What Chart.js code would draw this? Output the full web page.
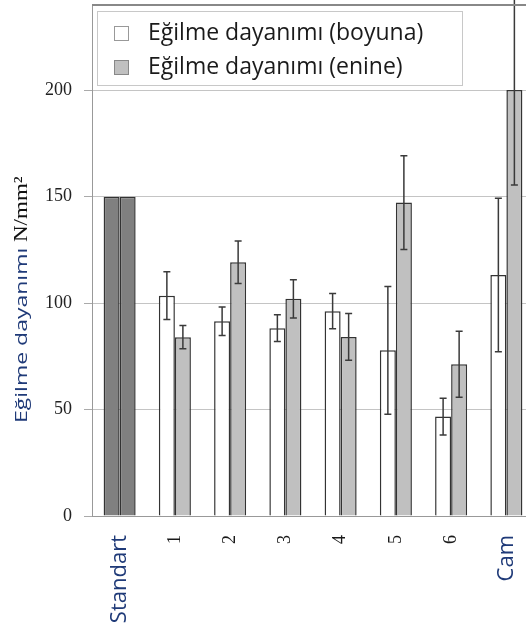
<!DOCTYPE html>
<html>
<head>
<meta charset="utf-8">
<script src="https://cdn.jsdelivr.net/npm/chart.js@4.4.1/dist/chart.umd.min.js"></script>
<style>
  html, body { margin: 0; padding: 0; background: #fff; overflow: hidden; }
  #wrap { width: 536px; height: 628px; }
</style>
</head>
<body>
<div id="wrap"><canvas id="canvas" width="536" height="628"></canvas></div>
<script>
var categories = ['Standart', '1', '2', '3', '4', '5', '6', 'Cam'];
var boyuna = [150, 103.5, 91.5, 88.2, 96.2, 77.8, 46.7, 113.2];
var boyunaErr = [0, 11.2, 6.7, 6.3, 8.3, 30, 8.6, 36];
var enine = [150, 84, 119.2, 102, 84.1, 147.2, 71.3, 200.1];
var enineErr = [0, 5.5, 10, 9, 11, 22, 15.5, 44.6];
var yTicks = [0, 50, 100, 150, 200];

var blueText = '#1f3a78';

function barColors(normal) {
  var c = [];
  for (var i = 0; i < categories.length; i++) {
    c.push(categories[i] === 'Standart' ? '#808080' : normal);
  }
  return c;
}

// error bars on top of every bar
var errorBars = {
  id: 'errorBars',
  afterDatasetsDraw: function(chart) {
    var ctx = chart.ctx;
    var y = chart.scales.y;
    ctx.save();
    ctx.strokeStyle = '#3a3a3a';
    ctx.lineWidth = 1.5;
    chart.data.datasets.forEach(function(ds, i) {
      var meta = chart.getDatasetMeta(i);
      meta.data.forEach(function(bar, j) {
        var e = ds.errors[j];
        if (!e) return;
        var top = y.getPixelForValue(ds.data[j] + e);
        var bot = y.getPixelForValue(ds.data[j] - e);
        ctx.beginPath();
        ctx.moveTo(bar.x, top); ctx.lineTo(bar.x, bot);
        ctx.moveTo(bar.x - 3.5, top); ctx.lineTo(bar.x + 3.5, top);
        ctx.moveTo(bar.x - 3.5, bot); ctx.lineTo(bar.x + 3.5, bot);
        ctx.stroke();
      });
    });
    ctx.restore();
  }
};

// top frame line, legend box and the mixed-font y title
var decorations = {
  id: 'decorations',
  afterDraw: function(chart) {
    var ctx = chart.ctx;
    var a = chart.chartArea;
    ctx.save();
    ctx.strokeStyle = '#888';
    ctx.lineWidth = 2;
    ctx.beginPath();
    ctx.moveTo(a.left, a.top); ctx.lineTo(chart.width, a.top);
    ctx.stroke();

    // legend
    ctx.fillStyle = '#fff';
    ctx.fillRect(97.5, 11.5, 365, 74);
    ctx.strokeStyle = '#c8c8c8';
    ctx.lineWidth = 1;
    ctx.strokeRect(97.5, 11.5, 365, 74);
    var rows = [33, 67];
    ctx.font = '23px "Open Sans"';
    ctx.textBaseline = 'middle';
    chart.data.datasets.forEach(function(ds, i) {
      ctx.fillStyle = ds.legendFill;
      ctx.fillRect(114, rows[i] - 7, 15, 15);
      ctx.strokeStyle = ds.legendBorder;
      ctx.strokeRect(114.5, rows[i] - 6.5, 14, 14);
      ctx.fillStyle = '#1a1a1a';
      ctx.fillText(ds.label, 148, rows[i]);
    });

    // y axis title
    ctx.translate(27, 423);
    ctx.rotate(-Math.PI / 2);
    ctx.textBaseline = 'alphabetic';
    ctx.save();
    ctx.scale(1, 0.68);
    ctx.font = '23px "Open Sans"';
    ctx.fillStyle = blueText;
    ctx.fillText('Eğilme dayanımı', 0, 0);
    ctx.restore();
    ctx.scale(1, 0.85);
    ctx.font = '23px "Liberation Serif"';
    ctx.fillStyle = '#111';
    ctx.fillText('N/mm²', 181, 0);
    ctx.restore();
  }
};

var data = {
  labels: categories,
  datasets: [
    {
      label: 'Eğilme dayanımı (boyuna)',
      data: boyuna,
      errors: boyunaErr,
      backgroundColor: barColors('#ffffff'),
      borderColor: '#333',
      borderWidth: 1.5,
      legendFill: '#ffffff',
      legendBorder: '#999'
    },
    {
      label: 'Eğilme dayanımı (enine)',
      data: enine,
      errors: enineErr,
      backgroundColor: barColors('#c0c0c0'),
      borderColor: '#333',
      borderWidth: 1.5,
      legendFill: '#c0c0c0',
      legendBorder: '#888'
    }
  ]
};

var options = {
  responsive: false,
  animation: false,
  devicePixelRatio: 1,
  layout: { padding: { top: 5, right: 2, left: 0, bottom: 0 } },
  datasets: { bar: { barPercentage: 1, categoryPercentage: 0.58 } },
  plugins: { legend: { display: false }, tooltip: { enabled: false } },
  scales: {
    x: {
      offset: true,
      grid: { display: false, drawTicks: false },
      border: { display: true, color: '#999', width: 1 },
      ticks: {
        autoSkip: false,
        minRotation: 90,
        maxRotation: 90,
        padding: 19,
        font: function(c) {
          var l = categories[c.index];
          if (l === 'Standart' || l === 'Cam') return { family: 'Open Sans', size: 22 };
          return { family: 'Liberation Serif', size: 18 };
        },
        color: function(c) {
          var l = categories[c.index];
          return (l === 'Standart' || l === 'Cam') ? blueText : '#1a1a1a';
        }
      },
      afterFit: function(s) {
        s.height = 112;
        s.paddingLeft = 0;
        s.paddingRight = 0;
      }
    },
    y: {
      min: 0,
      max: 240,
      afterBuildTicks: function(s) { s.ticks = yTicks.map(function(v) { return { value: v }; }); },
      grid: { color: '#c4c4c4', tickLength: 8, tickColor: '#aaa' },
      border: { color: '#999' },
      ticks: {
        padding: 12,
        color: '#222',
        font: { family: 'Liberation Serif', size: 18 }
      },
      afterFit: function(s) {
        s.width = 92;
        s.paddingTop = 0;
        s.paddingBottom = 0;
      }
    }
  }
};

var ctx = document.getElementById('canvas').getContext('2d');
new Chart(ctx, { type: 'bar', data: data, options: options, plugins: [errorBars, decorations] });
</script>
</body>
</html>
